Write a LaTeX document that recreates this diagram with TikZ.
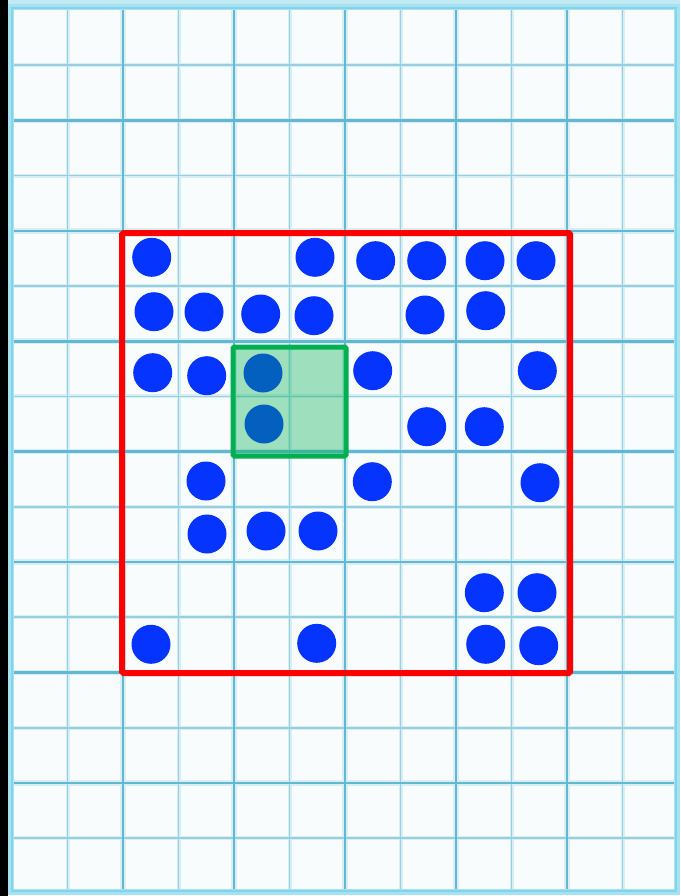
\documentclass[tikz,border=0pt]{standalone}
\begin{document}
\begin{tikzpicture}[x=1pt,y=-1pt,
  minorhalo/.style={draw=gridhalo,line width=4pt},
  majorhalo/.style={draw=gridhalo,line width=5.5pt},
  minorline/.style={draw=gridminor,line width=1.8pt},
  majorline/.style={draw=gridmajor,line width=2.6pt},
  dot/.style={circle,fill=dotblue,minimum size=39pt,inner sep=0pt,draw=none},
  redframe/.style={draw=redc,line width=6pt,rounded corners=1.5pt},
  greenbox/.style={draw=greenc,line width=5pt,rounded corners=1.5pt},
  greenfill/.style={fill=greenc,fill opacity=0.36,draw=none}]
\definecolor{gridhalo}{RGB}{214,238,244}
\definecolor{gridminor}{RGB}{150,208,224}
\definecolor{gridmajor}{RGB}{98,184,210}
\definecolor{paper}{RGB}{248,252,253}
\definecolor{framec}{RGB}{130,212,234}
\definecolor{dotblue}{RGB}{5,51,255}
\definecolor{redc}{RGB}{255,0,0}
\definecolor{greenc}{RGB}{0,176,80}
\useasboundingbox (0,0) rectangle (680,896);
\fill[paper] (0,0) rectangle (680,896);
\fill[black] (0,0) rectangle (8,896);
\fill[framec!50] (8,0) rectangle (680,4);
% halos
\foreach \i in {1,3,...,11} {\draw[minorhalo] ({12+55.5*\i},8) -- ({12+55.5*\i},893);}
\foreach \j in {1,3,...,15} {\draw[minorhalo] (12,{10+55.2*\j}) -- (678,{10+55.2*\j});}
\foreach \i in {2,4,...,10} {\draw[majorhalo] ({12+55.5*\i},8) -- ({12+55.5*\i},893);}
\foreach \j in {2,4,...,14} {\draw[majorhalo] (12,{10+55.2*\j}) -- (678,{10+55.2*\j});}
% minor grid lines
\foreach \i in {1,3,...,11} {\draw[minorline] ({12+55.5*\i},8) -- ({12+55.5*\i},893);}
\foreach \j in {1,3,...,15} {\draw[minorline] (12,{10+55.2*\j}) -- (678,{10+55.2*\j});}
% major grid lines
\foreach \i in {2,4,...,10} {\draw[majorline] ({12+55.5*\i},8) -- ({12+55.5*\i},893);}
\foreach \j in {2,4,...,14} {\draw[majorline] (12,{10+55.2*\j}) -- (678,{10+55.2*\j});}
% outer frame
\draw[framec!70,line width=6pt] (11,7) rectangle (677,892);
\draw[framec,line width=2.5pt] (12,8) rectangle (676,891);
% dots
\node[dot] (a1) at (151.7,257.3) {};
\node[dot] (a4) at (315,257.3) {};
\node[dot] (a5) at (375.7,260.7) {};
\node[dot] (a6) at (426.7,260.7) {};
\node[dot] (a7) at (485,260.7) {};
\node[dot] (a8) at (536,260.7) {};
\node[dot] (b1) at (154,311.7) {};
\node[dot] (b2) at (204,312) {};
\node[dot] (b3) at (260.7,314) {};
\node[dot] (b4) at (314,315.7) {};
\node[dot] (b6) at (425,315) {};
\node[dot] (b7) at (485.7,310.7) {};
\node[dot] (c1) at (152.7,372.7) {};
\node[dot] (c2) at (206.7,375.7) {};
\node[dot] (c3) at (263,373) {};
\node[dot] (c5) at (372.7,370.7) {};
\node[dot] (c8) at (537.3,370.7) {};
\node[dot] (d3) at (264,424) {};
\node[dot] (d6) at (426.7,426.7) {};
\node[dot] (d7) at (484.3,426.7) {};
\node[dot] (e2) at (206,481) {};
\node[dot] (e5) at (372.3,481.7) {};
\node[dot] (e8) at (540,482.7) {};
\node[dot] (f2) at (207,534) {};
\node[dot] (f3) at (266,531) {};
\node[dot] (f4) at (318,531) {};
\node[dot] (g7) at (484.3,592.7) {};
\node[dot] (g8) at (537,592.7) {};
\node[dot] (h1) at (151,644.3) {};
\node[dot] (h4) at (316.7,643.3) {};
\node[dot] (h7) at (485.7,644.3) {};
\node[dot] (h8) at (538.7,645.7) {};
% green square
\fill[greenfill] (233,347) rectangle (346,456);
\draw[greenbox] (233,347) rectangle (346,456);
% red frame
\draw[redframe] (122,233) rectangle (570,673);
\end{tikzpicture}
\end{document}
